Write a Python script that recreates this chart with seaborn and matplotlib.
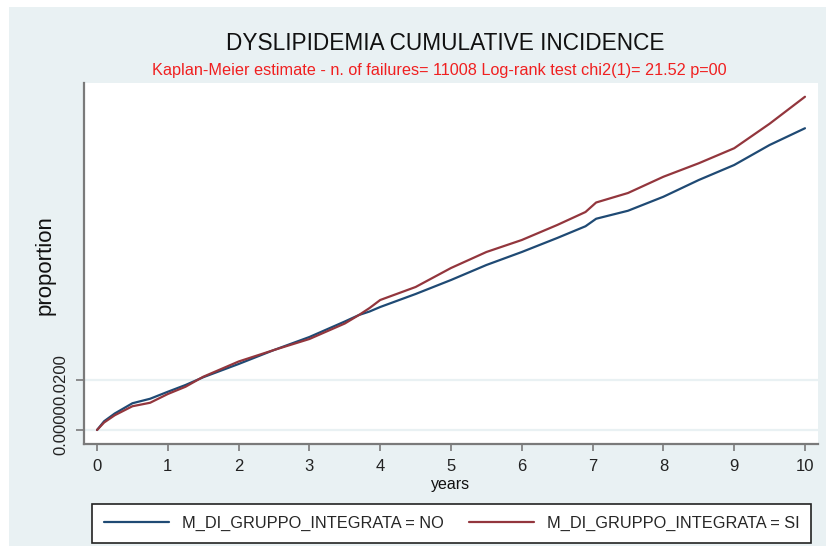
import pandas as pd
import seaborn as sns
import matplotlib.pyplot as plt
from matplotlib.patches import Rectangle

# values (Kaplan-Meier failure curves)
years = [0, 0.1, 0.25, 0.5, 0.75, 1, 1.25, 1.5, 2, 2.5, 3, 3.5, 3.7, 3.85,
         4, 4.5, 5, 5.5, 6, 6.5, 6.9, 7.05, 7.5, 8, 8.5, 9, 9.5, 10]
prop_no = [0, 0.0035, 0.0066, 0.0107, 0.0125, 0.0153, 0.0180, 0.0211, 0.0264,
           0.0320, 0.0372, 0.0434, 0.0460, 0.0474, 0.0492, 0.0544, 0.0600,
           0.0660, 0.0712, 0.0768, 0.0815, 0.0845, 0.0877, 0.0933, 0.1000,
           0.1060, 0.1140, 0.1207]
prop_si = [0, 0.0030, 0.0059, 0.0095, 0.0109, 0.0144, 0.0173, 0.0213, 0.0274,
           0.0320, 0.0364, 0.0426, 0.0460, 0.0488, 0.0520, 0.0572, 0.0648,
           0.0712, 0.0760, 0.0820, 0.0872, 0.0910, 0.0948, 0.1013, 0.1067,
           0.1127, 0.1225, 0.1333]
groups = ["M_DI_GRUPPO_INTEGRATA = NO", "M_DI_GRUPPO_INTEGRATA = SI"]
x_ticks = list(range(11))
y_ticks = [0.0, 0.02]

title = "DYSLIPIDEMIA CUMULATIVE INCIDENCE"
subtitle = "Kaplan-Meier estimate - n. of failures= 11008 Log-rank test chi2(1)= 21.52 p=00"

navy = "#1f4a74"
maroon = "#93363d"
bg = "#e9f1f3"

sns.set_style("white")
plt.rcParams['font.family'] = ['Liberation Sans', 'DejaVu Sans']

W, H = 826, 546
fig = plt.figure(figsize=(W / 100, H / 100), dpi=100, facecolor="white")
fig.patches.append(Rectangle((9 / W, 0), 1, 1 - 7 / H, transform=fig.transFigure,
                             facecolor=bg, edgecolor="none", zorder=-1))

left, right, top, bottom = 84, 818, 83, 444
ax = fig.add_axes([left / W, 1 - bottom / H, (right - left) / W, (bottom - top) / H])
ax.set_facecolor("white")

df = pd.DataFrame({
    "years": years + years,
    "proportion": prop_no + prop_si,
    "group": [groups[0]] * len(years) + [groups[1]] * len(years),
})
sns.lineplot(data=df, x="years", y="proportion", hue="group", hue_order=groups,
             palette=[navy, maroon], linewidth=1.6, legend=False, ax=ax)

ax.set_xlim(-0.184, 10.184)
ax.set_ylim(-0.0056, 0.1388)
ax.set_xticks(x_ticks)
ax.set_yticks(y_ticks)
ax.set_yticklabels(["%.4f" % v for v in y_ticks], rotation=90, va="center")
ax.set_xlabel("")
ax.set_ylabel("")
for s in ["top", "right"]:
    ax.spines[s].set_visible(False)
for s in ["left", "bottom"]:
    ax.spines[s].set_color("#7a7a7a")
    ax.spines[s].set_linewidth(1.6)
ax.tick_params(axis="y", length=6, width=1.2, color="#7a7a7a", pad=5,
               labelsize=12, labelcolor="#222222", left=True)
ax.tick_params(axis="x", length=5, width=1.2, color="#7a7a7a", pad=6,
               labelsize=12, labelcolor="#222222", bottom=True)
for v in y_ticks:
    ax.axhline(v, color=bg, linewidth=1.6, zorder=0)

fig.text(0.539, 1 - 44 / H, title, ha="center", va="center", fontsize=16.3, color="#111111")
fig.text(0.532, 1 - 70 / H, subtitle, ha="center", va="center", fontsize=11.7, color="#f02020")
fig.text(45 / W, 1 - 265 / H, "proportion", rotation=90, ha="center", va="center",
         fontsize=16, color="#111111")
fig.text(451 / W, 1 - 484 / H, "years", ha="center", va="center", fontsize=11.5, color="#111111")

leg = fig.legend(handles=ax.get_lines()[:2], labels=groups, ncol=2, mode="expand",
                 loc="lower left", bbox_to_anchor=(92 / W, 3 / H, 719 / W, 40 / H),
                 borderaxespad=0, borderpad=0.72, fontsize=11.8, handlelength=4.0,
                 handletextpad=0.75, fancybox=False, frameon=True,
                 edgecolor="#222222", framealpha=1)
leg.get_frame().set_linewidth(1.2)

fig.savefig("out.png", dpi=100, facecolor=fig.get_facecolor())
